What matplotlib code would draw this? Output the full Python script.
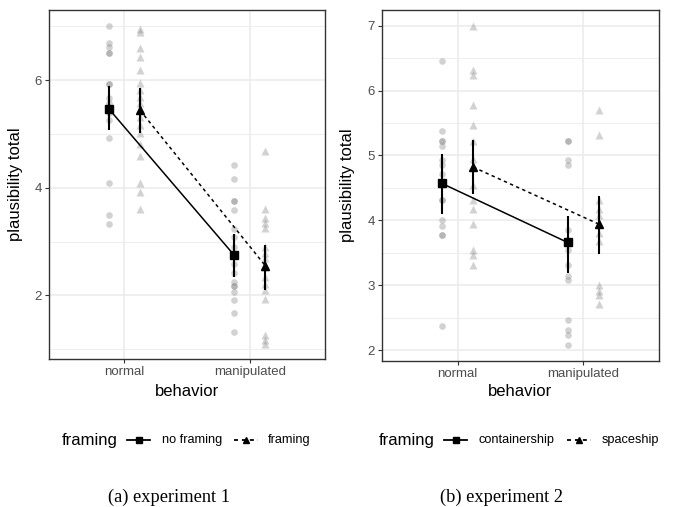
import matplotlib.pyplot as plt
from matplotlib.lines import Line2D
from matplotlib.ticker import MultipleLocator

plt.rcParams['font.family'] = ['Liberation Sans', 'DejaVu Sans']

behaviors = ['normal', 'manipulated']

# experiment 1: raw ratings per condition
exp1_raw = {
    ('no framing', 'normal'): [7.0, 6.68, 6.62, 6.51, 6.51, 5.93, 5.93, 5.67, 5.57, 5.38, 5.26,
                               4.92, 4.08, 3.50, 3.33],
    ('framing', 'normal'): [6.94, 6.90, 6.60, 6.43, 6.19, 5.94, 5.81, 5.69, 5.57, 5.44, 5.32,
                            5.16, 5.01, 4.82, 4.59, 4.09, 3.93, 3.60],
    ('no framing', 'manipulated'): [4.42, 4.17, 3.75, 3.75, 3.58, 3.24, 3.09, 2.90, 2.75, 2.59,
                                    2.41, 2.25, 2.17, 2.17, 2.07, 1.91, 1.67, 1.33],
    ('framing', 'manipulated'): [4.69, 3.60, 3.43, 3.35, 3.26, 2.90, 2.78, 2.69, 2.53, 2.35,
                                 2.22, 2.10, 1.93, 1.26, 1.17, 1.10],
}
exp1_mean = {'no framing': [5.47, 2.75], 'framing': [5.44, 2.55]}
exp1_lo = {'no framing': [5.07, 2.35], 'framing': [5.01, 2.11]}
exp1_hi = {'no framing': [5.89, 3.15], 'framing': [5.85, 2.93]}

# experiment 2
exp2_raw = {
    ('containership', 'normal'): [6.46, 5.38, 5.22, 5.22, 5.15, 4.93, 4.85, 4.72, 4.54, 4.31,
                                  4.31, 4.00, 3.92, 3.77, 3.77, 2.38],
    ('spaceship', 'normal'): [7.0, 6.32, 6.24, 5.77, 5.47, 5.23, 4.95, 4.82, 4.54, 4.31, 4.17,
                              3.94, 3.55, 3.46, 3.31],
    ('containership', 'manipulated'): [5.22, 5.22, 4.93, 4.85, 3.85, 3.67, 3.54, 3.31, 3.15,
                                       3.08, 2.46, 2.31, 2.23, 2.08],
    ('spaceship', 'manipulated'): [5.70, 5.31, 4.31, 4.18, 4.08, 3.95, 3.80, 3.69, 3.00, 2.92,
                                   2.85, 2.71],
}
exp2_mean = {'containership': [4.57, 3.66], 'spaceship': [4.82, 3.94]}
exp2_lo = {'containership': [4.10, 3.19], 'spaceship': [4.40, 3.49]}
exp2_hi = {'containership': [5.02, 4.07], 'spaceship': [5.24, 4.38]}

W, H = 674, 507
fig = plt.figure(figsize=(W / 100, H / 100), dpi=100)


def px_axes(x0, x1, y0, y1):
    return fig.add_axes([x0 / W, 1 - y1 / H, (x1 - x0) / W, (y1 - y0) / H])


def panel(ax, raw, mean, lo, hi, groups, ylim):
    dodge = {groups[0]: -0.125, groups[1]: 0.125}
    mk = {groups[0]: 's', groups[1]: '^'}
    ls = {groups[0]: '-', groups[1]: (0, (2.2, 2.2))}
    for (g, b), vals in raw.items():
        x = behaviors.index(b) + 1 + dodge[g]
        m = 'o' if mk[g] == 's' else '^'
        ax.plot([x] * len(vals), vals, linestyle='none', marker=m,
                ms=4.8 if m == 'o' else 5.6, color='#808080', alpha=0.35, mec='none', zorder=2)
    for g in groups:
        xs = [i + 1 + dodge[g] for i in range(len(behaviors))]
        ax.plot(xs, mean[g], color='black', lw=1.1, linestyle=ls[g], zorder=3)
        ax.vlines(xs, lo[g], hi[g], color='black', lw=1.5, zorder=3)
        ax.plot(xs, mean[g], linestyle='none', marker=mk[g], ms=5.2, color='black', zorder=4)
    ax.set_xlim(0.4, 2.6)
    ax.set_ylim(*ylim)
    ax.set_xticks([1, 2])
    ax.set_xticklabels(behaviors)
    ax.grid(True, which='major', color='#ebebeb', lw=1.1)
    ax.grid(True, which='minor', axis='y', color='#ebebeb', lw=0.6)
    ax.set_axisbelow(True)
    for s in ax.spines.values():
        s.set_color('#333333')
        s.set_linewidth(1.0)
    ax.tick_params(which='major', length=3, color='#333333', labelsize=9.5, labelcolor='#4d4d4d', pad=2)
    ax.tick_params(which='minor', length=0)
    ax.set_ylabel('plausibility total', fontsize=12)
    ax.set_xlabel('behavior', fontsize=12)


ax1 = px_axes(49, 325, 10, 359)
panel(ax1, exp1_raw, exp1_mean, exp1_lo, exp1_hi, ['no framing', 'framing'], (0.82, 7.30))
ax1.set_yticks([2, 4, 6])
ax1.set_yticks([1, 3, 5, 7], minor=True)
ax1.yaxis.set_label_coords(-26 / 276, 0.5)
ax1.xaxis.set_label_coords(0.5, -(392 - 359) / 349)
ax1.xaxis.label.set_va('center')

ax2 = px_axes(382, 659, 10, 361)
panel(ax2, exp2_raw, exp2_mean, exp2_lo, exp2_hi, ['containership', 'spaceship'], (1.835, 7.24))
ax2.set_yticks([2, 3, 4, 5, 6, 7])
ax2.yaxis.set_minor_locator(MultipleLocator(0.5))
ax2.yaxis.set_label_coords(-27 / 277, 0.5)
ax2.xaxis.set_label_coords(0.5, -(392 - 361) / 351)
ax2.xaxis.label.set_va('center')


def legend(x_title, x_l1, x_t1, x_l2, x_t2, labels, y=440):
    fy = 1 - y / H
    fig.text(x_title / W, fy, 'framing', fontsize=12, ha='left', va='center')
    fig.add_artist(Line2D([x_l1 / W, (x_l1 + 23) / W], [fy, fy], color='black', lw=1.3))
    fig.add_artist(Line2D([(x_l1 + 11.5) / W], [fy], marker='s', ms=5, color='black'))
    fig.text(x_t1 / W, fy, labels[0], fontsize=9.2, ha='left', va='center')
    fig.add_artist(Line2D([x_l2 / W, (x_l2 + 24) / W], [fy, fy], color='black', lw=1.3,
                          linestyle=(0, (2.2, 2.2))))
    fig.add_artist(Line2D([(x_l2 + 12) / W], [fy], marker='^', ms=5, color='black'))
    fig.text(x_t2 / W, fy, labels[1], fontsize=9.2, ha='left', va='center')


legend(62, 127, 162, 234, 268, ['no framing', 'framing'])
legend(379, 444, 479, 567, 602, ['containership', 'spaceship'])

fig.text(169 / W, 1 - 497 / H, '(a) experiment 1', family='Liberation Serif', fontsize=13.2,
         ha='center', va='center')
fig.text(501 / W, 1 - 497 / H, '(b) experiment 2', family='Liberation Serif', fontsize=13.2,
         ha='center', va='center')

fig.savefig('out.png', dpi=100)
